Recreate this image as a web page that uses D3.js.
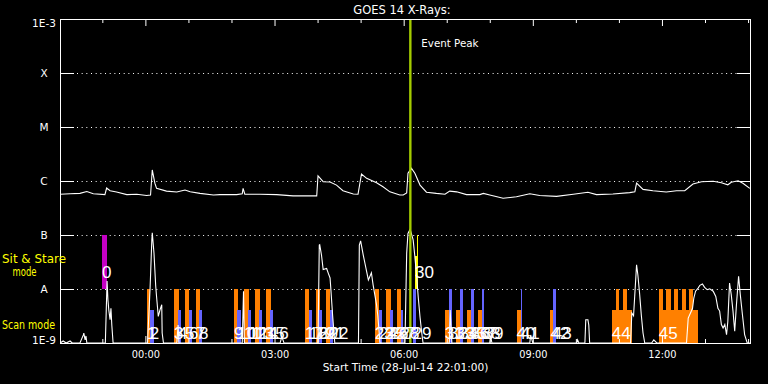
<!DOCTYPE html>
<html><head><meta charset="utf-8">
<script src="https://cdn.jsdelivr.net/npm/d3@7"></script>
<style>
body{margin:0;background:#000;}
svg{display:block;background:#000;}
</style>
</head><body>
<svg id="chart" width="768" height="384"></svg>
<script>
// ---- time axis (hours relative to 29-Jul-14 00:00 UT) ----
const startHour = -1.9833;   // 28-Jul-14 22:01
const endHour = 14.045;
const majorHours = [0, 3, 6, 9, 12];
const majorHourLabels = ["00:00", "03:00", "06:00", "09:00", "12:00"];
const minorHours = [-1, 1, 2, 4, 5, 7, 8, 10, 11, 13, 14];

// ---- flux axis ----
const fluxLevels = [1e-3, 1e-4, 1e-5, 1e-6, 1e-7, 1e-8, 1e-9];
const fluxLabels = ["1E-3", "X", "M", "C", "B", "A", "1E-9"];
const gridLevels = [1e-4, 1e-5, 1e-6, 1e-7, 1e-8];

// ---- GOES 14 long channel (1-8 A) ----
const longTime = [-1.98,-1.75,-1.52,-1.36,-1.21,-0.94,-0.90,-0.82,-0.67,-0.43,-0.20,0.03,0.12,0.16,0.22,0.26,0.49,0.73,0.92,1.04,1.27,1.58,1.73,2.12,2.25,2.27,2.31,2.66,3.05,3.43,3.98,4.01,4.13,4.29,4.44,4.59,4.83,4.94,5.02,5.14,5.37,5.52,5.68,5.91,5.99,6.07,6.10,6.18,6.26,6.38,6.53,6.76,6.96,7.07,7.23,7.46,7.77,7.85,8.00,8.31,8.62,8.93,9.16,9.55,9.94,10.28,10.48,10.86,11.25,11.37,11.41,11.56,11.79,12.10,12.34,12.53,12.72,12.92,13.19,13.38,13.53,13.61,13.77,13.88,14.04];
const longFlux = [5.7e-7,5.8e-7,5.9e-7,6.4e-7,5.8e-7,5.6e-7,7.4e-7,6.6e-7,6.25e-7,5.6e-7,5.7e-7,5.4e-7,5.5e-7,1.6e-6,9.1e-7,7.3e-7,6.5e-7,6.25e-7,6.8e-7,6.3e-7,5.9e-7,5.5e-7,5.6e-7,5.6e-7,5.8e-7,7.3e-7,5.7e-7,5.7e-7,5.6e-7,5.3e-7,5.3e-7,1.24e-6,9.7e-7,9.6e-7,8.4e-7,6.6e-7,5.74e-7,5.7e-7,1.35e-6,1.12e-6,9.3e-7,7.8e-7,6.3e-7,5.5e-7,5.5e-7,6.0e-7,1.39e-6,1.72e-6,1.39e-6,8.4e-7,6.2e-7,5.9e-7,5.7e-7,6.5e-7,6.3e-7,5.6e-7,5.6e-7,5.9e-7,5.5e-7,4.8e-7,5.1e-7,5.8e-7,5.4e-7,5.2e-7,5.7e-7,6.2e-7,5.6e-7,5.74e-7,6.1e-7,6.3e-7,9.1e-7,7.0e-7,6.6e-7,6.25e-7,6.6e-7,6.6e-7,8.8e-7,9.7e-7,9.9e-7,9.3e-7,8.5e-7,9.5e-7,1.01e-6,9.1e-7,7.3e-7];

// ---- GOES 14 short channel (0.5-4 A) ----
const shortTime = [-1.98,-1.91,-1.84,-1.75,-1.70,-1.52,-1.44,-1.43,-1.40,-1.38,-1.36,-0.96,-0.93,-0.89,-0.87,-0.85,-0.82,-0.80,-0.78,-0.75,
  0.05,0.11,0.15,0.16,0.20,0.24,0.26,0.30,0.34,0.38,0.39,0.42,
  0.73,0.76,0.78, 2.25,2.28,2.30, 3.13,3.17,3.22,
  4.01,4.04,4.05,4.09,4.13,4.21,4.25,4.29,4.31,4.35,4.40,
  4.95,4.97,5.00,5.06,5.10,5.14,5.18,5.20,5.25,5.29,5.33,5.37,5.40,5.45,
  6.03,6.07,6.10,6.15,6.22,6.26,6.30,6.34,6.38,6.42,6.45,
  7.06,7.08,7.12, 8.00,8.02,8.05, 8.93,8.95,9.00, 10.02,10.04,10.07,
  10.21,10.23,10.28,10.30,10.32,
  11.27,11.30,11.34,11.41,11.44,11.48,11.52,11.56,11.60,
  11.76,11.81,11.88,
  12.57,12.61,12.66,12.71,12.74,12.78,12.84,12.88,12.94,12.99,13.05,13.11,13.19,13.25,13.30,13.34,13.38,13.42,13.46,13.50,13.53,13.57,13.61,13.65,13.69,13.73,13.78,13.82,13.87,13.92,13.98,14.04];
const shortFlux = [1e-9,1.09e-9,1e-9,1.09e-9,1e-9,1e-9,1.41e-9,1.53e-9,1.14e-9,1.35e-9,1e-9,1e-9,1e-9,1.41e-8,6.3e-9,4.1e-9,2.7e-9,4.4e-9,2.15e-9,1e-9,
  1e-9,1.07e-8,8.1e-8,1.10e-7,4.6e-8,1.14e-8,7.2e-9,3.1e-9,4.1e-9,5.1e-9,1.53e-9,1e-9,
  1e-9,2.15e-9,1e-9, 1e-9,9.1e-9,1e-9, 1e-9,1.31e-9,1e-9,
  1e-9,6.5e-8,6.6e-8,4.3e-8,2.3e-8,2.4e-8,1.95e-8,1.6e-8,9.6e-9,3.2e-9,1e-9,
  1e-9,6.5e-8,7.8e-8,4.3e-8,3.0e-8,2.1e-8,1.47e-8,1.6e-8,2.0e-8,1.19e-8,7.8e-9,5.1e-9,3.2e-9,1e-9,
  1e-9,4.6e-8,1.07e-7,1.28e-7,8.1e-8,4.0e-8,1.74e-8,6.8e-9,3.0e-9,1.53e-9,1e-9,
  1e-9,4.1e-9,1e-9, 1e-9,1.35e-9,1e-9, 1e-9,1.41e-9,1e-9, 1e-9,1.14e-9,1e-9,
  1e-9,2.7e-9,2.7e-9,2.15e-9,1e-9,
  1e-9,3.6e-9,3.2e-9,2.8e-8,1.84e-8,8.3e-9,3.3e-9,1.53e-9,1e-9,
  1e-9,1.14e-9,1e-9,
  1e-9,2.9e-9,3.55e-9,4.4e-9,6.8e-9,9.1e-9,1.04e-8,1.17e-8,1.24e-8,1.07e-8,9.7e-9,1.01e-8,9.1e-9,7.3e-9,4.4e-9,3.9e-9,2.2e-9,1.9e-9,2.2e-9,1.43e-9,2.5e-9,1.29e-8,7.8e-9,3.9e-9,1.65e-9,5.1e-9,1.72e-8,7.8e-9,3.3e-9,1.43e-9,1e-9,1e-9];

// ---- scan mode observations ----
const scanIds   = [1,2,3,4,5,6,7,8,9,10,11,12,13,14,15,16,17,18,19,20,21,22,23,24,25,26,27,28,29,31,32,33,34,35,36,37,38,39,40,41,42,43,44,45];
const scanStart = [0.037,0.100,0.664,0.757,0.920,1.012,1.175,1.244,2.057,2.134,2.289,2.389,2.545,2.637,2.800,2.893,3.705,3.798,3.961,4.037,4.193,4.279,5.331,5.424,5.586,5.672,5.835,5.927,6.206,6.956,7.049,7.204,7.297,7.460,7.553,7.715,7.808,7.877,8.621,8.721,9.410,9.464,10.833,11.924];
const scanEnd   = [0.107,0.193,0.773,0.827,1.005,1.082,1.261,1.314,2.143,2.220,2.398,2.452,2.654,2.700,2.909,2.955,3.798,3.868,4.054,4.100,4.286,4.349,5.431,5.500,5.695,5.742,5.934,5.988,6.276,7.055,7.118,7.304,7.367,7.560,7.623,7.815,7.877,7.877,8.721,8.751,9.464,9.534,11.298,12.830];
const scanChannel = ["o","b","o","b","o","b","o","b","o","b","o","b","o","b","o","b","o","b","o","b","o","b","o","b","o","b","o","b","b","o","b","o","b","o","b","o","b","b","o","b","o","b","o","o"];
const scanTall  = [1,0,1,0,1,0,1,0,1,0,1,0,1,0,1,0,1,0,1,0,1,0,1,0,1,0,1,0,1,0,1,0,1,0,1,0,1,1,0,1,0,1,0,0];
// tall sub-observations inside blocks 44 and 45
const subStart = [10.926,11.089,11.924,12.103,12.273,12.459,12.637];
const subEnd   = [11.012,11.189,12.024,12.203,12.382,12.568,12.730];

// ---- sit & stare observations ----
const ssLabels = ["0", "30", ""];
const ssStart  = [-1.008, 6.266, 6.306];
const ssEnd    = [-0.892, 6.322, 6.322];
const ssTop    = [1e-7, 4e-8, 1e-7];
const ssColors = ["#c400c4", "#ffff00", "#ffff00"];

const eventPeakHour = 6.155;

// band levels
const scanBase = 1e-9, scanShortTop = 4.1e-9, scanTallTop = 1e-8, ssBase = 1e-8;
const channelColor = {o: "#ff8000", b: "#6464ff"};

// ---- drawing ----
const svg = d3.select("#chart");
const L = 60, R = 750, T = 19, B = 343;
const x = d3.scaleLinear().domain([startHour, endHour]).range([L, R]);
const y = d3.scaleLog().domain([1e-9, 1e-3]).range([B, T]).clamp(true);
const FONT = "'DejaVu Sans', sans-serif";

// gridlines
svg.append("g").selectAll("line").data(gridLevels).join("line")
  .attr("x1", 77).attr("x2", 737)
  .attr("y1", d => Math.round(y(d)) + 0.5).attr("y2", d => Math.round(y(d)) + 0.5)
  .attr("stroke", "#fff").attr("stroke-width", 1).attr("stroke-dasharray", "1 3.67");

// scan bars
const scanG = svg.append("g").attr("shape-rendering", "crispEdges");
scanIds.forEach((id, i) => {
  const top = scanTall[i] ? scanTallTop : scanShortTop;
  scanG.append("rect")
    .attr("x", x(scanStart[i])).attr("width", Math.max(0, x(scanEnd[i]) - x(scanStart[i])))
    .attr("y", y(top)).attr("height", y(scanBase) - y(top))
    .attr("fill", channelColor[scanChannel[i]]);
});
subStart.forEach((s, i) => {
  scanG.append("rect")
    .attr("x", x(s)).attr("width", x(subEnd[i]) - x(s))
    .attr("y", y(scanTallTop)).attr("height", y(scanBase) - y(scanTallTop))
    .attr("fill", channelColor.o);
});
// sit & stare bars
ssLabels.forEach((lab, i) => {
  scanG.append("rect")
    .attr("x", x(ssStart[i])).attr("width", x(ssEnd[i]) - x(ssStart[i]))
    .attr("y", y(ssTop[i])).attr("height", y(ssBase) - y(ssTop[i]))
    .attr("fill", ssColors[i]);
});

// curves
const line = d3.line().x(d => x(d[0])).y(d => y(d[1]));
svg.append("path").datum(d3.zip(longTime, longFlux))
  .attr("d", line).attr("fill", "none").attr("stroke", "#fff").attr("stroke-width", 1.1);
svg.append("path").datum(d3.zip(shortTime, shortFlux))
  .attr("d", line).attr("fill", "none").attr("stroke", "#fff").attr("stroke-width", 1.1);

// event peak line
svg.append("line")
  .attr("x1", x(eventPeakHour)).attr("x2", x(eventPeakHour))
  .attr("y1", T).attr("y2", B)
  .attr("stroke", "#a4cc00").attr("stroke-width", 2.4);
svg.append("text").attr("x", x(eventPeakHour) + 11).attr("y", 46.5)
  .attr("fill", "#fff").attr("font-family", FONT).attr("font-size", 10.3)
  .text("Event Peak");

// observation labels
const labG = svg.append("g").attr("font-family", "'Liberation Sans', Arial, sans-serif")
  .attr("font-size", 17).attr("fill", "#fff");
scanIds.forEach((id, i) => {
  labG.append("text").attr("x", x(scanStart[i])).attr("y", 339).text(id);
});
ssLabels.forEach((lab, i) => {
  if (lab) labG.append("text").attr("x", x(ssStart[i])).attr("y", 278).text(lab);
});

// axes (inward ticks)
function styleAxis(g) {
  g.select(".domain").remove();
  g.selectAll(".tick line").attr("stroke", "#fff");
  g.selectAll(".tick text").attr("fill", "#fff").attr("font-family", FONT);
}
svg.append("g").attr("transform", `translate(0,${B})`)
  .call(d3.axisBottom(x).tickValues(majorHours).tickSize(-7).tickPadding(7.8)
    .tickFormat((d, i) => majorHourLabels[i]))
  .call(styleAxis)
  .call(g => g.selectAll(".tick text").attr("font-size", 9.8));
svg.append("g").attr("transform", `translate(0,${B})`)
  .call(d3.axisBottom(x).tickValues(minorHours).tickSize(-4).tickFormat(""))
  .call(styleAxis);
svg.append("g").attr("transform", `translate(0,${T})`)
  .call(d3.axisTop(x).tickValues(majorHours).tickSize(-7).tickFormat(""))
  .call(styleAxis);
svg.append("g").attr("transform", `translate(0,${T})`)
  .call(d3.axisTop(x).tickValues(minorHours).tickSize(-4).tickFormat(""))
  .call(styleAxis);
svg.append("g").attr("transform", `translate(${L},0)`)
  .call(d3.axisLeft(y).tickValues(fluxLevels).tickSize(-14).tickFormat(""))
  .call(styleAxis);
svg.append("g").attr("transform", `translate(${R},0)`)
  .call(d3.axisRight(y).tickValues(fluxLevels).tickSize(-13).tickFormat(""))
  .call(styleAxis);

// flux labels
svg.append("g").selectAll("text").data(fluxLevels).join("text")
  .attr("x", 44).attr("y", d => Math.min(344, Math.max(26.7, y(d) + 4.3)))
  .attr("text-anchor", "middle").attr("fill", "#fff")
  .attr("font-family", FONT).attr("font-size", 10.5)
  .text((d, i) => fluxLabels[i]);

// frame
svg.append("rect").attr("x", L + 0.5).attr("y", T + 0.5)
  .attr("width", R - L).attr("height", B - T)
  .attr("fill", "none").attr("stroke", "#fff").attr("stroke-width", 1);

// title and axis title
svg.append("text").attr("x", 402).attr("y", 13.5).attr("text-anchor", "middle")
  .attr("fill", "#fff").attr("font-family", FONT).attr("font-size", 11.5)
  .text("GOES 14 X-Rays:");
svg.append("text").attr("x", 405.5).attr("y", 371).attr("text-anchor", "middle")
  .attr("fill", "#fff").attr("font-family", FONT).attr("font-size", 10.6)
  .text("Start Time (28-Jul-14 22:01:00)");

// mode labels
const modeG = svg.append("g").attr("fill", "#ffff00").attr("font-family", FONT).attr("font-size", 12.5);
modeG.append("text").attr("x", 2).attr("y", 263).attr("textLength", 64).attr("lengthAdjust", "spacingAndGlyphs").text("Sit & Stare");
modeG.append("text").attr("x", 12.5).attr("y", 276).attr("textLength", 24).attr("lengthAdjust", "spacingAndGlyphs").text("mode");
modeG.append("text").attr("x", 2).attr("y", 328.5).attr("textLength", 53).attr("lengthAdjust", "spacingAndGlyphs").text("Scan mode");
</script>
</body></html>
